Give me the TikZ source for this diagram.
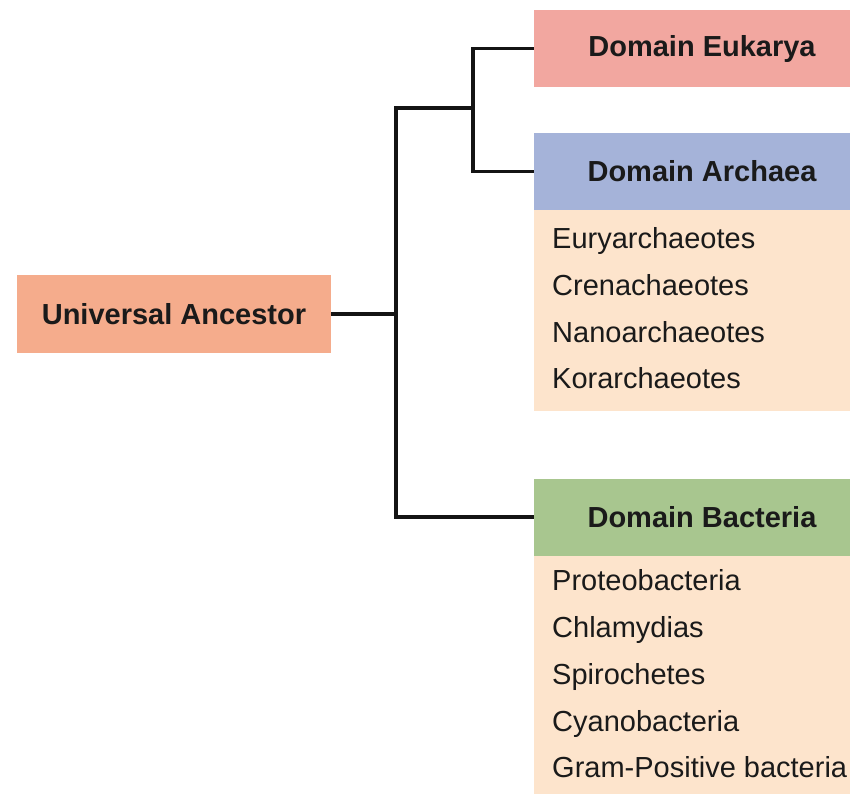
\documentclass[tikz,border=0pt]{standalone}
\usepackage{fontspec}
\setmainfont{Liberation Sans}
\definecolor{eukfill}{HTML}{F2A7A0}
\definecolor{uafill}{HTML}{F5AC8C}
\definecolor{arcfill}{HTML}{A5B3D9}
\definecolor{bacfill}{HTML}{A8C68F}
\definecolor{listfill}{HTML}{FDE4CC}
\definecolor{txt}{HTML}{1A1A1A}
\tikzset{
  header/.style={draw=none, minimum width=336pt, minimum height=77pt, inner sep=0pt, text=txt, font=\fontsize{29}{34}\selectfont\bfseries},
  listbg/.style={draw=none, fill=listfill, minimum width=336pt, inner sep=0pt, anchor=north},
  item/.style={anchor=base west, inner sep=0pt, text=txt, font=\fontsize{29}{34}\selectfont},
  conn/.style={line width=3.5pt, black!92}
}
\begin{document}
\begin{tikzpicture}[x=1pt,y=1pt]
\useasboundingbox (0,0) rectangle (850,-793);
\clip (0,0) rectangle (850,-793);
\fill[white] (0,0) rectangle (850,-793);
% boxes
\node[header, fill=eukfill] (euk) at (702,-48.5) {Domain Eukarya};
\node[header, fill=arcfill] (arc) at (702,-171.5) {Domain Archaea};
\node[listbg, minimum height=201pt] (arclist) at (702,-210) {};
\node[header, fill=bacfill] (bac) at (702,-517) {Domain Bacteria};
\node[listbg, minimum height=250pt] (baclist) at (702,-556) {};
\node[draw=none, fill=uafill, minimum width=314pt, minimum height=78pt, inner sep=0pt, text=txt, font=\fontsize{29}{34}\selectfont\bfseries] (ua) at (174,-314) {Universal Ancestor};
% archaea items
\node[item] (a1) at (552,-248) {Euryarchaeotes};
\node[item] (a2) at (552,-295) {Crenachaeotes};
\node[item] (a3) at (552,-342) {Nanoarchaeotes};
\node[item] (a4) at (552,-388) {Korarchaeotes};
% bacteria items
\node[item] (b1) at (552,-590) {Proteobacteria};
\node[item] (b2) at (552,-637) {Chlamydias};
\node[item] (b3) at (552,-684) {Spirochetes};
\node[item] (b4) at (552,-731) {Cyanobacteria};
\node[item] (b5) at (552,-777) {Gram-Positive bacteria};
% connectors
\coordinate (n1) at (473,-108);
\coordinate (n2) at (396,-108);
\draw[conn] (euk.west) -| (n1) |- (arc.west);
\draw[conn] (n1) -- (n2) |- (bac.west);
\draw[conn] (ua.east) -- (ua.east -| n2);
\end{tikzpicture}
\end{document}
